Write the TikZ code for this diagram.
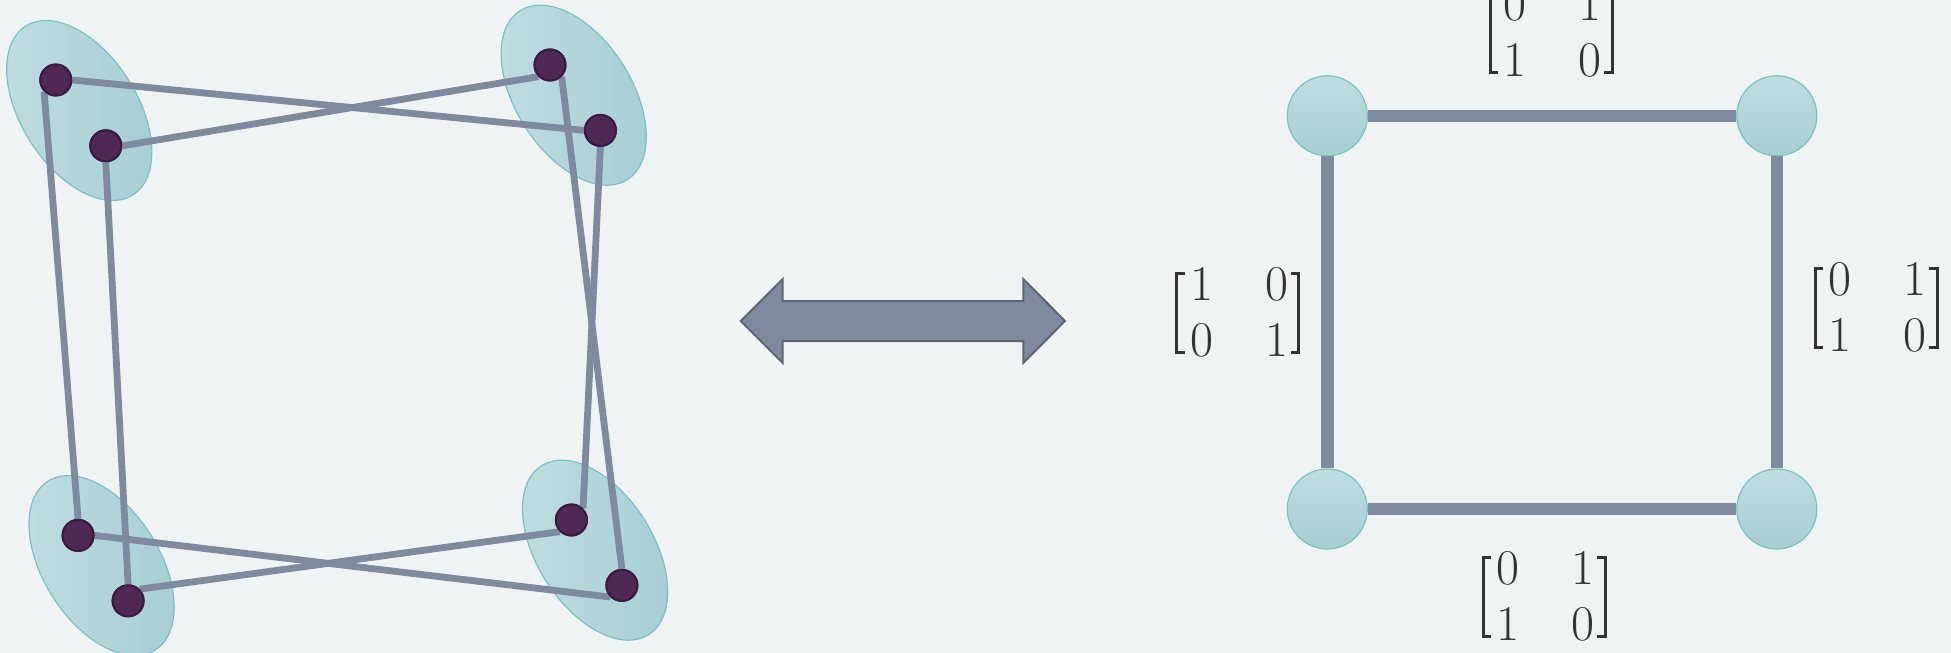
\documentclass[tikz,border=0pt]{standalone}
\usepackage{tikz}
\definecolor{bg}{HTML}{EFF3F4}
\definecolor{edgec}{HTML}{7F8A9E}
\definecolor{dotc}{HTML}{4F2856}
\definecolor{dotb}{HTML}{3A1A40}
\definecolor{ellA}{HTML}{BFDDE1}
\definecolor{ellB}{HTML}{A6CED3}
\definecolor{ellb}{HTML}{7DBFC6}
\definecolor{arrb}{HTML}{5E6575}
\definecolor{txt}{HTML}{333333}
\tikzset{
  dotnode/.style={circle, minimum size=15.5pt, inner sep=0pt, fill=dotc, draw=dotb, line width=1pt},
  link/.style={draw=edgec, line width=3.4pt},
  ellblob/.style={left color=ellA, right color=ellB, draw=ellb, line width=0.6pt},
  vertex/.style={circle, minimum size=40pt, inner sep=0pt, top color=ellA, bottom color=ellB, draw=ellb, line width=0.6pt},
  sqedge/.style={draw=edgec, line width=6.2pt},
  digit/.style={anchor=base, inner sep=0pt, text=txt, font=\fontsize{25}{30}\selectfont},
  brk/.style={draw=txt, line width=1.5pt, line join=miter},
  dblarrow/.style={fill=edgec, draw=arrb, line width=1pt, line join=miter}
}
\newcommand\drawmat[7]{%
  \node[digit] (#1a) at ({#2+25},{-(#3)}) {#4};
  \node[digit] (#1b) at ({#2+100},{-(#3)}) {#5};
  \node[digit] (#1c) at ({#2+25},{-(#3+56)}) {#6};
  \node[digit] (#1d) at ({#2+100},{-(#3+56)}) {#7};
  \draw[brk] ({#2+8},{-(#3-27)}) -- ({#2},{-(#3-27)}) -- ({#2},{-(#3+52)}) -- ({#2+8},{-(#3+52)});
  \draw[brk] ({#2+114},{-(#3-27)}) -- ({#2+122},{-(#3-27)}) -- ({#2+122},{-(#3+52)}) -- ({#2+114},{-(#3+52)});
}
\begin{document}
\begin{tikzpicture}[x=0.5pt,y=0.5pt]
\useasboundingbox (0,0) rectangle (1951,-653);
\fill[bg] (0,0) rectangle (1951,-653);

% ellipses
\foreach \cx/\cy in {79.3/-110.5, 573.7/-95.2, 101.6/-565.6, 595.1/-550.2}{
  \path[ellblob, rotate around={-57.6:(\cx,\cy)}] (\cx,\cy) ellipse [x radius=100, y radius=58];
}

% dots
\node[dotnode] (A) at (55.8,-80) {};
\node[dotnode] (B) at (105.8,-145.8) {};
\node[dotnode] (C) at (550,-65) {};
\node[dotnode] (D) at (600.4,-130.4) {};
\node[dotnode] (E) at (78.1,-535.4) {};
\node[dotnode] (F) at (128.1,-600.8) {};
\node[dotnode] (G) at (571.4,-520) {};
\node[dotnode] (H) at (621.9,-585.4) {};

% links
\draw[link] (A.east) -- (D.west);
\draw[link] (B.east) -- (C.south west);
\draw[link] (A.south west) -- (E.north);
\draw[link] (B.south) -- (F.north);
\draw[link] (C.south east) -- (H.north);
\draw[link] (D.south) -- (G.north east);
\draw[link] (E.east) -- (H.south west);
\draw[link] (F.north east) -- (G.south west);

% redraw dots on top
\foreach \n in {A,B,C,D,E,F,G,H}{
  \path[fill=dotc, draw=dotb, line width=1pt] (\n.center) circle [radius=7.75pt];
}

% double arrow
\draw[dblarrow] (740.7,-321) -- (782.7,-279) -- (782.7,-301) -- (1023.3,-301) -- (1023.3,-279)
  -- (1065,-321) -- (1023.3,-363) -- (1023.3,-341) -- (782.7,-341) -- (782.7,-363) -- cycle;

% square graph
\node[vertex] (P1) at (1327.3,-115.8) {};
\node[vertex] (P2) at (1776.8,-115.8) {};
\node[vertex] (P3) at (1327.3,-509) {};
\node[vertex] (P4) at (1776.8,-509) {};
\draw[sqedge] (P1) -- (P2);
\draw[sqedge] (P2) -- (P4);
\draw[sqedge] (P4) -- (P3);
\draw[sqedge] (P3) -- (P1);

% matrices
\drawmat{mt}{1490}{20.5}{0}{1}{1}{0}
\drawmat{ml}{1176.7}{300}{1}{0}{0}{1}
\drawmat{mr}{1815}{295}{0}{1}{1}{0}
\drawmat{mb}{1483}{584}{0}{1}{1}{0}
\end{tikzpicture}
\end{document}
